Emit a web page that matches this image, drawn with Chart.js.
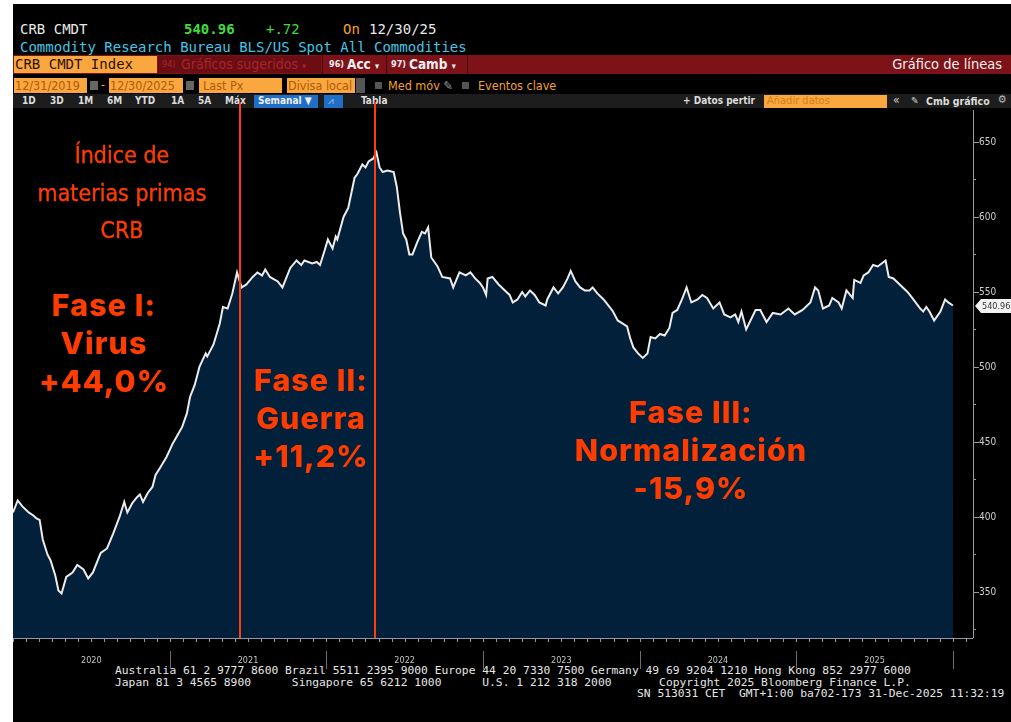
<!DOCTYPE html>
<html><head><meta charset="utf-8">
<script src="https://cdn.jsdelivr.net/npm/chart.js@4.4.1/dist/chart.umd.min.js"></script>
<style>
html,body{margin:0;padding:0;background:#fff;width:1011px;height:722px;overflow:hidden;}
#frame{position:absolute;left:13px;top:4px;width:998px;height:718px;background:#000;}
.a{position:absolute;white-space:pre;}
.mono{font-family:"DejaVu Sans Mono",monospace;}
.ui{font-family:"DejaVu Sans Condensed","DejaVu Sans",sans-serif;}
.box{position:absolute;}
.ann{position:absolute;width:320px;text-align:center;color:#ff3c00;z-index:3;}
.big{font-family:Inter,"Open Sans",sans-serif;font-weight:800;font-size:30.5px;line-height:38px;letter-spacing:1px;}
.cond{font-family:"DejaVu Sans Condensed",sans-serif;font-size:23px;line-height:37.5px;-webkit-text-stroke:0.4px #ff3c00;}
canvas{position:absolute;left:0;top:0;z-index:2;}
</style></head>
<body>
<div id="frame"></div>
<!-- header row 1/2 -->
<div class="a mono" style="left:20px;top:21px;font-size:14px;line-height:16px;color:#e8e8e8;">CRB CMDT</div>
<div class="a mono" style="left:184px;top:21px;font-size:14px;line-height:16px;color:#3fdc3a;font-weight:bold;">540.96</div>
<div class="a mono" style="left:266px;top:21px;font-size:14px;line-height:16px;color:#3fdc3a;">+.72</div>
<div class="a mono" style="left:343px;top:21px;font-size:14px;line-height:16px;color:#f3a12c;">On</div>
<div class="a mono" style="left:369px;top:21px;font-size:14px;line-height:16px;color:#e8e8e8;">12/30/25</div>
<div class="a mono" style="left:20px;top:39px;font-size:14px;line-height:16px;color:#45c6e6;">Commodity Research Bureau BLS/US Spot All Commodities</div>
<!-- row 3 -->
<div class="box" style="left:13px;top:55px;width:998px;height:19px;background:#7d1319;"></div>
<div class="box" style="left:14px;top:56px;width:143px;height:17px;background:#f9a73e;"></div>
<div class="a mono" style="left:15px;top:56px;font-size:14px;line-height:17px;color:#2a1200;">CRB CMDT Index</div>
<div class="box" style="left:158px;top:56px;width:163px;height:17px;background:#6c0d13;"></div>
<div class="a ui" style="left:162px;top:56px;font-size:9px;line-height:17px;color:#a5262d;">94)</div>
<div class="a ui" style="left:181px;top:55px;font-size:14px;line-height:18px;color:#a5262d;">Gráficos sugeridos <span style="font-size:9px">▾</span></div>
<div class="box" style="left:322px;top:55px;width:1px;height:19px;background:#4a080c;"></div>
<div class="a ui" style="left:329px;top:56px;font-size:9px;line-height:17px;color:#f0f0f0;font-weight:bold;">96)</div>
<div class="a ui" style="left:347px;top:55px;font-size:13.5px;line-height:18px;color:#f0f0f0;font-weight:bold;">Acc <span style="font-size:9px">▾</span></div>
<div class="box" style="left:386px;top:55px;width:1px;height:19px;background:#4a080c;"></div>
<div class="a ui" style="left:391px;top:56px;font-size:9px;line-height:17px;color:#f0f0f0;font-weight:bold;">97)</div>
<div class="a ui" style="left:409px;top:55px;font-size:13.5px;line-height:18px;color:#f0f0f0;font-weight:bold;">Camb <span style="font-size:9px">▾</span></div>
<div class="box" style="left:467px;top:55px;width:1px;height:19px;background:#4a080c;"></div>
<div class="a ui" style="right:9px;top:55px;font-size:14.5px;line-height:18px;color:#f0f0f0;">Gráfico de líneas</div>
<!-- row 4 -->
<div class="box" style="left:14px;top:78px;width:73px;height:15px;background:#f9a73e;"></div>
<div class="a ui" style="left:15px;top:77px;font-size:12.5px;line-height:17px;color:#b05a08;">12/31/2019</div>
<div class="box" style="left:90px;top:81px;width:8px;height:9px;background:#666;"></div>
<div class="a ui" style="left:101px;top:77px;font-size:12px;line-height:17px;color:#f3a12c;">-</div>
<div class="box" style="left:109px;top:78px;width:74px;height:15px;background:#f9a73e;"></div>
<div class="a ui" style="left:110px;top:77px;font-size:12.5px;line-height:17px;color:#b05a08;">12/30/2025</div>
<div class="box" style="left:186px;top:81px;width:8px;height:9px;background:#666;"></div>
<div class="box" style="left:199px;top:78px;width:83px;height:15px;background:#f9a73e;"></div>
<div class="a ui" style="left:203px;top:77px;font-size:12.5px;line-height:17px;color:#b05a08;">Last Px</div>
<div class="box" style="left:287px;top:78px;width:68px;height:15px;background:#f9a73e;"></div>
<div class="a ui" style="left:288px;top:77px;font-size:12.5px;line-height:17px;color:#b05a08;">Divisa local</div>
<div class="box" style="left:356px;top:78px;width:9px;height:15px;background:#555;"></div>
<div class="box" style="left:375px;top:82px;width:7px;height:7px;background:#555;"></div>
<div class="a ui" style="left:388px;top:77px;font-size:12.5px;line-height:17px;color:#f3a12c;">Med móv <span style="color:#999">✎</span></div>
<div class="box" style="left:462px;top:82px;width:7px;height:7px;background:#555;"></div>
<div class="a ui" style="left:478px;top:77px;font-size:12.5px;line-height:17px;color:#f3a12c;">Eventos clave</div>
<!-- row 5 -->
<div class="box" style="left:13px;top:94px;width:998px;height:14px;background:#1d1d1d;"></div>
<div class="a ui" style="left:22px;top:94px;font-size:10px;line-height:14px;color:#dcdcdc;font-weight:bold;">1D</div>
<div class="a ui" style="left:50px;top:94px;font-size:10px;line-height:14px;color:#dcdcdc;font-weight:bold;">3D</div>
<div class="a ui" style="left:78px;top:94px;font-size:10px;line-height:14px;color:#dcdcdc;font-weight:bold;">1M</div>
<div class="a ui" style="left:107px;top:94px;font-size:10px;line-height:14px;color:#dcdcdc;font-weight:bold;">6M</div>
<div class="a ui" style="left:135px;top:94px;font-size:10px;line-height:14px;color:#dcdcdc;font-weight:bold;">YTD</div>
<div class="a ui" style="left:171px;top:94px;font-size:10px;line-height:14px;color:#dcdcdc;font-weight:bold;">1A</div>
<div class="a ui" style="left:198px;top:94px;font-size:10px;line-height:14px;color:#dcdcdc;font-weight:bold;">5A</div>
<div class="a ui" style="left:225px;top:94px;font-size:10px;line-height:14px;color:#dcdcdc;font-weight:bold;">Máx</div>
<div class="box" style="left:254px;top:95px;width:64px;height:13px;background:#1f6fc7;"></div>
<div class="a ui" style="left:258px;top:94px;font-size:10px;line-height:14px;color:#f0f0f0;font-weight:bold;">Semanal ▼</div>
<div class="box" style="left:324px;top:95px;width:19px;height:13px;background:#1f6fc7;"></div>
<div class="a ui" style="left:328px;top:94px;font-size:10px;line-height:14px;color:#9cc4f0;">⩘</div>
<div class="a ui" style="left:361px;top:94px;font-size:10px;line-height:14px;color:#dcdcdc;font-weight:bold;">Tabla</div>
<div class="a ui" style="left:683px;top:94px;font-size:10px;line-height:14px;color:#dcdcdc;font-weight:bold;">+ Datos pertir</div>
<div class="box" style="left:764px;top:95px;width:123px;height:13px;background:#f9a73e;"></div>
<div class="a ui" style="left:767px;top:94px;font-size:11px;line-height:14px;color:#d2801e;">Añadir datos</div>
<div class="a ui" style="left:893px;top:93px;font-size:12px;line-height:14px;color:#cfcfcf;">«</div>
<div class="a ui" style="left:911px;top:94px;font-size:10px;line-height:14px;color:#cfcfcf;">✎</div>
<div class="a ui" style="left:926px;top:94px;font-size:10.5px;line-height:14px;color:#dcdcdc;font-weight:bold;">Cmb gráfico</div>
<div class="a ui" style="left:998px;top:93px;font-size:11px;line-height:14px;color:#bbb;">⚙</div>
<!-- footer -->
<div class="a mono" style="left:115px;top:665px;font-size:11.3px;line-height:12px;color:#e6e6e6;">Australia 61 2 9777 8600 Brazil 5511 2395 9000 Europe 44 20 7330 7500 Germany 49 69 9204 1210 Hong Kong 852 2977 6000</div>
<div class="a mono" style="left:115px;top:677px;font-size:11.3px;line-height:12px;color:#e6e6e6;">Japan 81 3 4565 8900      Singapore 65 6212 1000      U.S. 1 212 318 2000       Copyright 2025 Bloomberg Finance L.P.</div>
<div class="a mono" style="left:637px;top:688px;font-size:11.3px;line-height:12px;color:#e6e6e6;">SN 513031 CET  GMT+1:00 ba702-173 31-Dec-2025 11:32:19</div>
<!-- annotations -->
<div class="ann cond" style="left:-38px;top:137px;">Índice de<br>materias primas<br>CRB</div>
<div class="ann big" style="left:-56px;top:286px;">Fase I:<br>Virus<br>+44,0%</div>
<div class="ann big" style="left:151px;top:361px;">Fase II:<br>Guerra<br>+11,2%</div>
<div class="ann big" style="left:531px;top:393px;">Fase III:<br>Normalización<br>-15,9%</div>

<canvas id="c" width="1011" height="722"></canvas>
<script>
// ---- data (weekly CRB spot index) ----
const timeYears = [
2020.00,2020.03,2020.06,2020.10,2020.13,2020.15,2020.17,2020.19,2020.22,2020.24,2020.27,2020.29,2020.31,2020.34,2020.38,2020.41,2020.45,2020.48,2020.51,2020.56,
2020.60,2020.64,2020.68,2020.71,2020.73,2020.76,2020.79,2020.81,2020.83,2020.86,2020.89,2020.91,2020.94,2020.98,2021.02,2021.08,2021.11,2021.13,2021.16,2021.19,
2021.23,2021.24,2021.28,2021.32,2021.34,2021.37,2021.40,2021.43,2021.46,2021.49,2021.53,2021.56,2021.59,2021.61,2021.64,2021.69,2021.72,2021.77,2021.81,2021.84,
2021.86,2021.91,2021.94,2021.96,2021.99,2022.01,2022.04,2022.06,2022.07,2022.11,2022.14,2022.16,2022.18,2022.20,2022.23,2022.25,2022.27,2022.30,2022.32,2022.34,
2022.36,2022.39,2022.43,2022.45,2022.47,2022.49,2022.51,2022.53,2022.55,2022.58,2022.61,2022.63,2022.65,2022.67,2022.71,2022.74,2022.79,2022.81,2022.85,2022.89,
2022.92,2022.95,2022.98,2023.00,2023.02,2023.03,2023.06,2023.10,2023.14,2023.17,2023.19,2023.22,2023.25,2023.27,2023.30,2023.33,2023.36,2023.40,2023.41,2023.45,
2023.48,2023.51,2023.54,2023.56,2023.59,2023.62,2023.65,2023.68,2023.70,2023.73,2023.77,2023.80,2023.83,2023.86,2023.89,2023.92,2023.94,2023.96,2023.99,2024.02,
2024.05,2024.07,2024.10,2024.13,2024.16,2024.19,2024.21,2024.24,2024.27,2024.30,2024.33,2024.37,2024.40,2024.43,2024.47,2024.51,2024.54,2024.58,2024.61,2024.63,
2024.65,2024.68,2024.74,2024.77,2024.81,2024.85,2024.90,2024.95,2024.99,2025.04,2025.09,2025.12,2025.14,2025.17,2025.21,2025.23,2025.27,2025.29,2025.32,2025.36,
2025.37,2025.41,2025.43,2025.46,2025.49,2025.52,2025.57,2025.59,2025.62,2025.66,2025.71,2025.74,2025.79,2025.81,2025.83,2025.85,2025.88,2025.92,2025.95,2025.97,
2026.00];
const indexValues = [
403,411,407,403,401,399,398,385,375,371,361,351,349,360,363,368,365,359,363,376,
379,389,400,410,403,409,413,415,410,416,420,428,433,440,449,460,469,480,488,500,
509,507,515,529,540,539,549,563,553,555,560,563,561,565,560,557,553,566,571,568,
571,569,570,568,578,585,579,587,585,600,606,616,626,629,635,633,637,639,643,633,
630,631,630,620,603,589,585,575,575,583,590,589,593,573,567,560,559,553,563,561,
563,559,556,553,548,559,560,555,551,548,543,545,550,547,551,548,543,541,545,553,
549,553,559,564,557,553,551,551,553,549,545,541,537,531,529,527,519,513,509,506,
509,520,519,522,521,526,536,538,545,553,543,545,548,546,539,543,535,533,535,530,
537,525,538,538,530,536,535,539,535,538,543,553,551,539,541,546,543,539,551,546,
558,556,561,563,568,567,571,560,559,555,550,546,539,537,540,537,531,537,545,543,
540.96];
const yearLabels = ['2020','2021','2022','2023','2024','2025'];
const yTickValues = [350,400,450,500,550,600,650];
const yMinorTicks = [325,375,425,475,525,575,625];
const phaseBreaks = [2021.45, 2022.31];

const X_MIN = 2020.0, X_MAX = 2026.128, Y_MIN = 319.3, Y_MAX = 671.3;
const points = timeYears.map((t,i)=>({x:t,y:indexValues[i]}));

const decor = {
  id:'decor',
  afterDatasetsDraw(chart){
    const ctx = chart.ctx, xs = chart.scales.x, ys = chart.scales.y, ca = chart.chartArea;
    ctx.save();
    // phase lines
    ctx.strokeStyle = '#ff3d0d'; ctx.lineWidth = 2;
    phaseBreaks.forEach(p=>{
      const x = Math.round(xs.getPixelForValue(p));
      ctx.beginPath(); ctx.moveTo(x, 102); ctx.lineTo(x, ca.bottom); ctx.stroke();
    });
    // x axis line and monthly ticks
    ctx.strokeStyle = '#8f99a3'; ctx.lineWidth = 1;
    ctx.beginPath(); ctx.moveTo(ca.left, ca.bottom+0.5); ctx.lineTo(ca.right, ca.bottom+0.5); ctx.stroke();
    ctx.beginPath();
    for(let k=0;k<=73;k++){
      const x = Math.round(xs.getPixelForValue(X_MIN + k/12))+0.5;
      if (x>ca.right) break;
      ctx.moveTo(x, ca.bottom); ctx.lineTo(x, ca.bottom+4);
    }
    ctx.stroke();
    // year separators
    ctx.strokeStyle = '#6e6e6e';
    ctx.beginPath();
    for(let i=1;i<=yearLabels.length;i++){
      const x = Math.round(xs.getPixelForValue(+yearLabels[0]+i))+0.5;
      ctx.moveTo(x, ca.bottom+13); ctx.lineTo(x, ca.bottom+31);
    }
    ctx.stroke();
    // y axis line + ticks
    ctx.strokeStyle = '#9a9a9a';
    ctx.beginPath(); ctx.moveTo(ca.right+0.5, ca.top); ctx.lineTo(ca.right+0.5, ca.bottom); ctx.stroke();
    ctx.beginPath();
    yTickValues.forEach(v=>{const y=Math.round(ys.getPixelForValue(v))+0.5; ctx.moveTo(ca.right, y); ctx.lineTo(ca.right+6, y);});
    yMinorTicks.forEach(v=>{const y=Math.round(ys.getPixelForValue(v))+0.5; ctx.moveTo(ca.right, y); ctx.lineTo(ca.right+3, y);});
    ctx.stroke();
    // last value tag
    const last = indexValues[indexValues.length-1];
    const ly = Math.round(ys.getPixelForValue(last));
    ctx.fillStyle = '#f2f2f2';
    ctx.beginPath();
    ctx.moveTo(ca.right+2, ly); ctx.lineTo(ca.right+8, ly-7); ctx.lineTo(1011, ly-7);
    ctx.lineTo(1011, ly+7); ctx.lineTo(ca.right+8, ly+7); ctx.closePath(); ctx.fill();
    ctx.fillStyle = '#333'; ctx.font = '9px "DejaVu Sans Condensed", sans-serif';
    ctx.textBaseline = 'middle'; ctx.textAlign = 'left';
    ctx.fillText(last.toFixed(2), ca.right+9, ly+0.5);
    ctx.restore();
  }
};

new Chart(document.getElementById('c').getContext('2d'), {
  type:'line',
  data:{datasets:[{data:points, borderColor:'#ececec', borderWidth:2, pointRadius:0,
    fill:'start', backgroundColor:'#03203b', tension:0}]},
  options:{
    responsive:false, animation:false, devicePixelRatio:1,
    layout:{padding:{left:13, top:110, right:0, bottom:0}},
    plugins:{legend:{display:false}, tooltip:{enabled:false}},
    scales:{
      x:{type:'linear', min:X_MIN, max:X_MAX,
        grid:{display:false, drawTicks:false}, border:{display:false},
        afterBuildTicks:s=>{s.ticks = yearLabels.map(l=>({value:+l+0.5}));},
        ticks:{color:'#c4c4c4', font:{family:'"DejaVu Sans Condensed"', size:9}, padding:17,
          maxRotation:0, autoSkip:false, callback:(v,i)=>yearLabels[i]},
        afterFit:s=>{s.height=84;}},
      y:{position:'right', min:Y_MIN, max:Y_MAX,
        grid:{display:false, drawTicks:false}, border:{display:false},
        afterBuildTicks:s=>{s.ticks = yTickValues.map(v=>({value:v}));},
        ticks:{color:'#cfcfcf', font:{family:'"DejaVu Sans Condensed"', size:10}, padding:6,
          callback:v=>String(v)},
        afterFit:s=>{s.width=38;}}
    }
  },
  plugins:[decor]
});
</script>
</body></html>
